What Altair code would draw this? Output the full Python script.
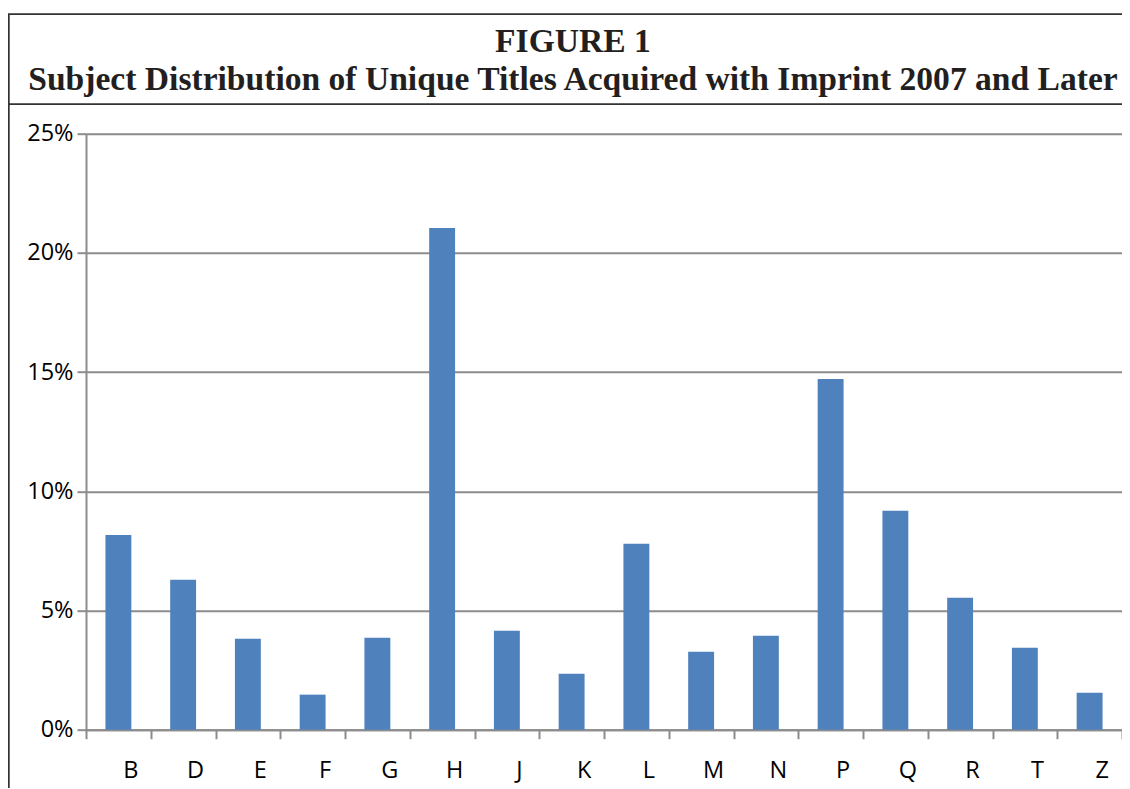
import altair as alt
import pandas as pd

categories = ["B", "D", "E", "F", "G", "H", "J", "K", "L", "M", "N", "P", "Q", "R", "T", "Z"]
shares = [0.0817, 0.0629, 0.0381, 0.0147, 0.0386, 0.2104, 0.0415, 0.0235, 0.0780,
          0.0327, 0.0394, 0.1471, 0.0918, 0.0553, 0.0344, 0.0155]
title_lines = ["FIGURE 1", "Subject Distribution of Unique Titles Acquired with Imprint 2007 and Later"]
y_ticks = [0, 0.05, 0.10, 0.15, 0.20, 0.25]

df = pd.DataFrame({"subject": categories, "share": shares})

W, H = 1036, 596
LABEL_FONT = "Open Sans"
GRID = "#8c8c8c"

bars = alt.Chart(df).mark_bar(color="#4F81BD", width=alt.RelativeBandSize(0.4)).encode(
    x=alt.X("subject:N", sort=categories,
            scale=alt.Scale(paddingInner=0, paddingOuter=0),
            axis=alt.Axis(title=None, labelAngle=0, tickBand="extent", labelOffset=12,
                          labelFont=LABEL_FONT, labelFontSize=23.5, labelColor="#000000",
                          labelPadding=20, tickSize=9, tickColor=GRID, tickWidth=2,
                          domainColor=GRID, domainWidth=2, grid=False)),
    y=alt.Y("share:Q", scale=alt.Scale(domain=[0, 0.25], nice=False),
            axis=alt.Axis(title=None, values=y_ticks, format=".0%",
                          labelFont=LABEL_FONT, labelFontSize=23.5, labelColor="#000000",
                          labelPadding=4, tickSize=9, tickColor=GRID, tickWidth=2,
                          domainColor=GRID, domainWidth=2,
                          grid=True, gridColor=GRID, gridWidth=2)),
)

tdf = pd.DataFrame({"line": title_lines, "row": [0, 1]})
title1 = alt.Chart(tdf[tdf.row == 0]).mark_text(
    font="Liberation Serif", fontSize=33.6, fontWeight="bold", color="#231f20",
    align="center", baseline="alphabetic"
).encode(text="line:N", x=alt.value(487), y=alt.value(-82))
title2 = alt.Chart(tdf[tdf.row == 1]).mark_text(
    font="Liberation Serif", fontSize=33.6, fontWeight="bold", color="#231f20",
    align="center", baseline="alphabetic"
).encode(text="line:N", x=alt.value(487), y=alt.value(-44))

frame_color = "#333333"
top_line = alt.Chart(tdf).mark_rule(color=frame_color, strokeWidth=1.5).encode(
    x=alt.value(-78), x2=alt.value(1040), y=alt.value(-119.5))
sep_line = alt.Chart(tdf).mark_rule(color=frame_color, strokeWidth=1.5).encode(
    x=alt.value(-78), x2=alt.value(1040), y=alt.value(-29.5))
left_line = alt.Chart(tdf).mark_rule(color=frame_color, strokeWidth=1.5).encode(
    x=alt.value(-77.3), y=alt.value(-119.5), y2=alt.value(700))

chart = alt.layer(bars, title1, title2, top_line, sep_line, left_line).properties(
    width=W, height=H,
    padding={"left": 78, "top": 125.7, "right": 0, "bottom": 58},
    autosize=alt.AutoSizeParams(type="none"),
).configure_view(stroke=None).configure(background="white")

chart.save("out.html", embed_options={"renderer": "svg", "actions": False})
